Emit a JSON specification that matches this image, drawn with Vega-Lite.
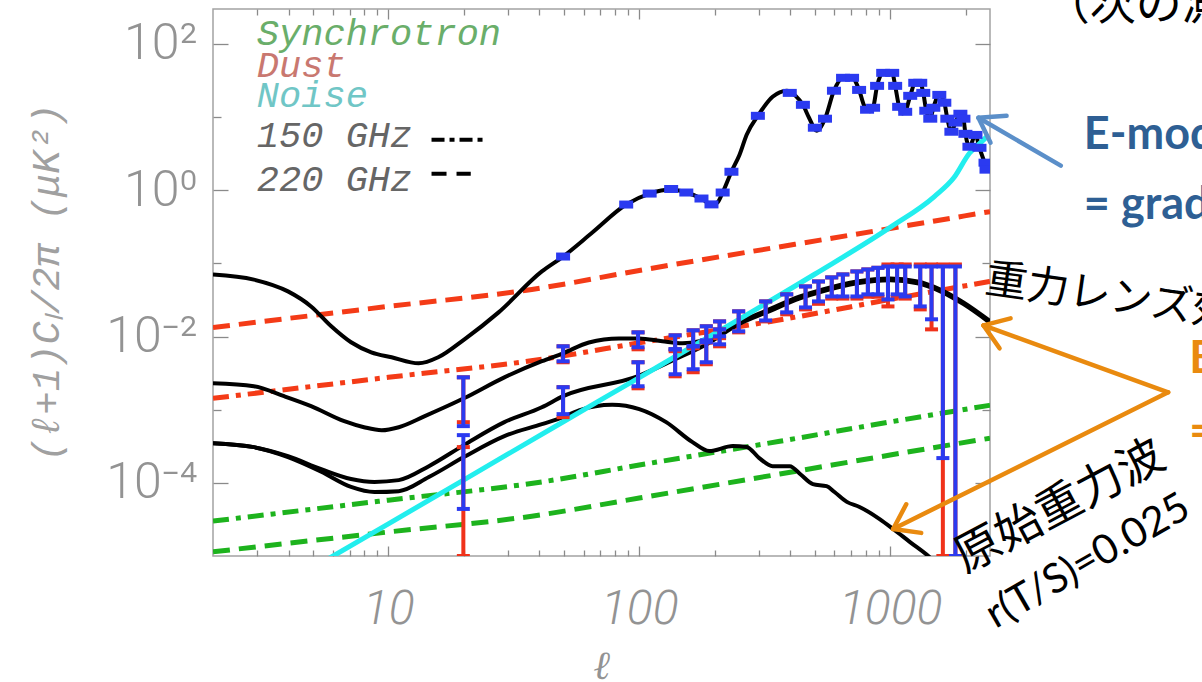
{
"$schema": "https://vega.github.io/schema/vega-lite/v6.json",
"width": 777, "height": 547,
"autosize": {"type": "none"},
"padding": {"left": 213, "top": 9, "right": 212, "bottom": 126},
"background": "#ffffff",
"config": {"view": {"stroke": "#a3a3a3", "strokeWidth": 1.5}, "axis": {"domain": false, "grid": false}},
"resolve": {"axis": {"x": "independent", "y": "independent"}},
"datasets": {
"curves": [
{"s":"EE","ell":2,"cl":0.0706},{"s":"EE","ell":2.91,"cl":0.060},{"s":"EE","ell":3.98,"cl":0.0414},{"s":"EE","ell":4.92,"cl":0.0258},{"s":"EE","ell":5.92,"cl":0.0138},{"s":"EE","ell":7.1,"cl":0.00834},{"s":"EE","ell":8.55,"cl":0.00608},{"s":"EE","ell":10.3,"cl":0.0052},{"s":"EE","ell":13.2,"cl":0.0043},{"s":"EE","ell":15.8,"cl":0.0052},{"s":"EE","ell":20.1,"cl":0.00916},{"s":"EE","ell":27.5,"cl":0.0214},{"s":"EE","ell":40.9,"cl":0.0776},{"s":"EE","ell":49.7,"cl":0.124},{"s":"EE","ell":65,"cl":0.264},{"s":"EE","ell":88.7,"cl":0.637},{"s":"EE","ell":110,"cl":0.9},{"s":"EE","ell":134,"cl":1.02},{"s":"EE","ell":154,"cl":0.93},{"s":"EE","ell":177,"cl":0.77},{"s":"EE","ell":194,"cl":0.64},{"s":"EE","ell":205,"cl":0.68},{"s":"EE","ell":215,"cl":0.93},{"s":"EE","ell":233,"cl":1.79},{"s":"EE","ell":251,"cl":3.06},{"s":"EE","ell":268,"cl":5.74},{"s":"EE","ell":297,"cl":10.4},{"s":"EE","ell":340,"cl":18.9},{"s":"EE","ell":387,"cl":22.9},{"s":"EE","ell":420,"cl":19.5},{"s":"EE","ell":449,"cl":14.7},{"s":"EE","ell":475,"cl":9.8},{"s":"EE","ell":510,"cl":6.5},{"s":"EE","ell":550,"cl":9.5},{"s":"EE","ell":597,"cl":22.9},{"s":"EE","ell":649,"cl":34.4},{"s":"EE","ell":705,"cl":34.4},{"s":"EE","ell":752,"cl":23.5},{"s":"EE","ell":790,"cl":14},{"s":"EE","ell":830,"cl":12.0},{"s":"EE","ell":855,"cl":13.4},{"s":"EE","ell":887,"cl":26.7},{"s":"EE","ell":938,"cl":40.2},{"s":"EE","ell":1019,"cl":40.2},{"s":"EE","ell":1047,"cl":26.7},{"s":"EE","ell":1086,"cl":13.8},{"s":"EE","ell":1120,"cl":11.2},{"s":"EE","ell":1148,"cl":11.8},{"s":"EE","ell":1202,"cl":19.5},{"s":"EE","ell":1259,"cl":29.4},{"s":"EE","ell":1318,"cl":29.4},{"s":"EE","ell":1355,"cl":21.4},{"s":"EE","ell":1393,"cl":12.2},{"s":"EE","ell":1445,"cl":9.5},{"s":"EE","ell":1486,"cl":13.4},{"s":"EE","ell":1570,"cl":20.1},{"s":"EE","ell":1644,"cl":15.7},{"s":"EE","ell":1690,"cl":9.5},{"s":"EE","ell":1754,"cl":6.3},{"s":"EE","ell":1820,"cl":8.4},{"s":"EE","ell":1905,"cl":11.1},{"s":"EE","ell":1959,"cl":9.5},{"s":"EE","ell":1995,"cl":5.9},{"s":"EE","ell":2070,"cl":3.93},{"s":"EE","ell":2188,"cl":5.7},{"s":"EE","ell":2270,"cl":3.8},{"s":"EE","ell":2400,"cl":2.2},
{"s":"lensB","ell":2,"cl":0.0023},{"s":"lensB","ell":2.91,"cl":0.00209},{"s":"lensB","ell":3.84,"cl":0.00153},{"s":"lensB","ell":4.92,"cl":0.00112},{"s":"lensB","ell":6.67,"cl":0.000697},{"s":"lensB","ell":8.0,"cl":0.000576},{"s":"lensB","ell":9.4,"cl":0.000524},{"s":"lensB","ell":11,"cl":0.000576},{"s":"lensB","ell":13.9,"cl":0.00081},{"s":"lensB","ell":20,"cl":0.00143},{"s":"lensB","ell":29,"cl":0.00277},{"s":"lensB","ell":40.9,"cl":0.0046},{"s":"lensB","ell":49.7,"cl":0.0059},{"s":"lensB","ell":63,"cl":0.0083},{"s":"lensB","ell":83,"cl":0.0094},{"s":"lensB","ell":100,"cl":0.0094},{"s":"lensB","ell":123.6,"cl":0.0086},{"s":"lensB","ell":148.6,"cl":0.0081},{"s":"lensB","ell":174,"cl":0.0086},{"s":"lensB","ell":209,"cl":0.0114},{"s":"lensB","ell":249,"cl":0.0156},{"s":"lensB","ell":323,"cl":0.0228},{"s":"lensB","ell":437,"cl":0.0353},{"s":"lensB","ell":539,"cl":0.044},{"s":"lensB","ell":737,"cl":0.0566},{"s":"lensB","ell":1000,"cl":0.0622},{"s":"lensB","ell":1285,"cl":0.0566},{"s":"lensB","ell":1585,"cl":0.044},{"s":"lensB","ell":1960,"cl":0.0293},{"s":"lensB","ell":2500,"cl":0.0163},
{"s":"lensC","ell":2,"cl":0.000349},{"s":"lensC","ell":2.91,"cl":0.000308},{"s":"lensC","ell":3.98,"cl":0.000232},{"s":"lensC","ell":5.4,"cl":0.000154},{"s":"lensC","ell":7.1,"cl":0.000113},{"s":"lensC","ell":8.8,"cl":0.000103},{"s":"lensC","ell":11,"cl":0.000109},{"s":"lensC","ell":14.5,"cl":0.000169},{"s":"lensC","ell":20,"cl":0.000328},{"s":"lensC","ell":29,"cl":0.000675},{"s":"lensC","ell":40.9,"cl":0.00108},{"s":"lensC","ell":49.7,"cl":0.00153},{"s":"lensC","ell":98.9,"cl":0.00287},{"s":"lensC","ell":139,"cl":0.00489},{"s":"lensC","ell":185,"cl":0.0078},{"s":"lensC","ell":249,"cl":0.0147},{"s":"lensC","ell":323,"cl":0.0215},{"s":"lensC","ell":437,"cl":0.0333},{"s":"lensC","ell":539,"cl":0.0415},{"s":"lensC","ell":737,"cl":0.0535},{"s":"lensC","ell":1000,"cl":0.0588},{"s":"lensC","ell":1285,"cl":0.0535},{"s":"lensC","ell":1585,"cl":0.0415},{"s":"lensC","ell":1960,"cl":0.0277},{"s":"lensC","ell":2500,"cl":0.0154},
{"s":"tensor","ell":2,"cl":0.000349},{"s":"tensor","ell":2.91,"cl":0.000308},{"s":"tensor","ell":3.98,"cl":0.000225},{"s":"tensor","ell":5.4,"cl":0.000142},{"s":"tensor","ell":7.1,"cl":0.000088},{"s":"tensor","ell":8.8,"cl":0.000075},{"s":"tensor","ell":11,"cl":0.000077},{"s":"tensor","ell":14.5,"cl":0.00012},{"s":"tensor","ell":20,"cl":0.000225},{"s":"tensor","ell":29,"cl":0.000435},{"s":"tensor","ell":40.9,"cl":0.000634},{"s":"tensor","ell":49.7,"cl":0.00079},{"s":"tensor","ell":57.5,"cl":0.00098},{"s":"tensor","ell":78,"cl":0.00117},{"s":"tensor","ell":100,"cl":0.00102},{"s":"tensor","ell":128,"cl":0.000675},{"s":"tensor","ell":163,"cl":0.00036},{"s":"tensor","ell":190,"cl":0.000272},{"s":"tensor","ell":236,"cl":0.000318},{"s":"tensor","ell":268,"cl":0.00031},{"s":"tensor","ell":300,"cl":0.00022},{"s":"tensor","ell":340,"cl":0.000169},{"s":"tensor","ell":398,"cl":0.000169},{"s":"tensor","ell":440,"cl":0.00013},{"s":"tensor","ell":492,"cl":0.000096},{"s":"tensor","ell":558,"cl":0.00009},{"s":"tensor","ell":600,"cl":0.000075},{"s":"tensor","ell":672,"cl":0.000055},{"s":"tensor","ell":755,"cl":0.0000468},{"s":"tensor","ell":908,"cl":0.000032},{"s":"tensor","ell":1028,"cl":0.0000234},{"s":"tensor","ell":1200,"cl":0.0000155},{"s":"tensor","ell":1419,"cl":0.00001},{"s":"tensor","ell":1600,"cl":0.0000068},
{"s":"noise","ell":5,"cl":0.0000069},{"s":"noise","ell":10,"cl":0.0000275},{"s":"noise","ell":20,"cl":0.00011},{"s":"noise","ell":50,"cl":0.00069},{"s":"noise","ell":100,"cl":0.00275},{"s":"noise","ell":200,"cl":0.011},{"s":"noise","ell":500,"cl":0.071},{"s":"noise","ell":1000,"cl":0.31},{"s":"noise","ell":1500,"cl":0.82},{"s":"noise","ell":1800,"cl":1.5},{"s":"noise","ell":2070,"cl":3.2},{"s":"noise","ell":2300,"cl":4.5},{"s":"noise","ell":2470,"cl":5.7},
{"s":"dust220","ell":2,"cl":0.0133},{"s":"dust220","ell":10,"cl":0.0258},{"s":"dust220","ell":37.3,"cl":0.044},{"s":"dust220","ell":100,"cl":0.08},{"s":"dust220","ell":1000,"cl":0.30},{"s":"dust220","ell":2500,"cl":0.51},
{"s":"dust150","ell":2,"cl":0.00143},{"s":"dust150","ell":10,"cl":0.00277},{"s":"dust150","ell":40.9,"cl":0.00489},{"s":"dust150","ell":100,"cl":0.0082},{"s":"dust150","ell":437,"cl":0.0189},{"s":"dust150","ell":1000,"cl":0.0322},{"s":"dust150","ell":2500,"cl":0.0567},
{"s":"sync150","ell":2,"cl":0.00003},{"s":"sync150","ell":10,"cl":0.000058},{"s":"sync150","ell":40.9,"cl":0.000103},{"s":"sync150","ell":100,"cl":0.000175},{"s":"sync150","ell":363,"cl":0.00037},{"s":"sync150","ell":1000,"cl":0.00068},{"s":"sync150","ell":2500,"cl":0.00115},
{"s":"sync220","ell":2,"cl":0.0000114},{"s":"sync220","ell":10,"cl":0.0000213},{"s":"sync220","ell":37.3,"cl":0.000035},{"s":"sync220","ell":100,"cl":0.000062},{"s":"sync220","ell":363,"cl":0.000132},{"s":"sync220","ell":1000,"cl":0.00024},{"s":"sync220","ell":2500,"cl":0.000408}
],
"bb": [
{"ell":19.9,"blo":0.000596,"bhi":0.00277,"rlo":0.000675,"rhi":0.00277},
{"ell":19.9,"blo":0.000044,"bhi":0.000449,"rlo":0.00001,"rhi":0.000308},
{"ell":49.7,"blo":0.00459,"bhi":0.00735,"rlo":0.00445,"rhi":0.00735},
{"ell":49.7,"blo":0.000869,"bhi":0.00203,"rlo":0.000791,"rhi":0.00203},
{"ell":98.9,"blo":0.00713,"bhi":0.0114,"rlo":0.00669,"rhi":0.0114},
{"ell":98.9,"blo":0.00209,"bhi":0.00445,"rlo":0.00196,"rhi":0.00445},
{"ell":139,"blo":0.00669,"bhi":0.01038,"rlo":0.0063,"rhi":0.01038},
{"ell":139,"blo":0.00305,"bhi":0.00669,"rlo":0.00286,"rhi":0.00669},
{"ell":164,"blo":0.00735,"bhi":0.01216,"rlo":0.0069,"rhi":0.01216},
{"ell":164,"blo":0.00357,"bhi":0.00735,"rlo":0.00325,"rhi":0.00735},
{"ell":185,"blo":0.00888,"bhi":0.0138,"rlo":0.0083,"rhi":0.0138},
{"ell":185,"blo":0.00445,"bhi":0.00834,"rlo":0.00418,"rhi":0.00834},
{"ell":209,"blo":0.01006,"bhi":0.0161,"rlo":0.0095,"rhi":0.0161},
{"ell":209,"blo":0.00783,"bhi":0.01253,"rlo":0.00735,"rhi":0.01253},
{"ell":249,"blo":0.01178,"bhi":0.0221,"rlo":0.0114,"rhi":0.0221},
{"ell":319,"blo":0.0166,"bhi":0.0302,"rlo":0.0161,"rhi":0.0302},
{"ell":387,"blo":0.0214,"bhi":0.0377,"rlo":0.0201,"rhi":0.0377},
{"ell":460,"blo":0.025,"bhi":0.0484,"rlo":0.0235,"rhi":0.0484},
{"ell":518,"blo":0.0302,"bhi":0.0566,"rlo":0.028,"rhi":0.0566},
{"ell":585,"blo":0.0353,"bhi":0.0643,"rlo":0.033,"rhi":0.0643},
{"ell":648,"blo":0.0353,"bhi":0.0706,"rlo":0.033,"rhi":0.0706},
{"ell":737,"blo":0.0353,"bhi":0.0776,"rlo":0.033,"rhi":0.0776},
{"ell":815,"blo":0.0377,"bhi":0.0826,"rlo":0.035,"rhi":0.0826},
{"ell":894,"blo":0.0377,"bhi":0.087,"rlo":0.035,"rhi":0.087},
{"ell":980,"blo":0.0321,"bhi":0.0907,"rlo":0.0258,"rhi":0.0966},
{"ell":1066,"blo":0.0377,"bhi":0.0907,"rlo":0.035,"rhi":0.0966},
{"ell":1148,"blo":0.0353,"bhi":0.0907,"rlo":0.033,"rhi":0.0966},
{"ell":1318,"blo":0.0258,"bhi":0.0907,"rlo":0.0235,"rhi":0.0966},
{"ell":1462,"blo":0.0172,"bhi":0.0907,"rlo":0.01253,"rhi":0.0966},
{"ell":1622,"blo":0.000218,"bhi":0.0907,"rlo":0.00001,"rhi":0.0966},
{"ell":1820,"blo":0.00001,"bhi":0.0907,"rlo":0.00001,"rhi":0.0966}
],
"ee": [
{"ell":49.7,"cl":0.124},{"ell":88.7,"cl":0.637},{"ell":110,"cl":0.9},{"ell":134,"cl":1.04},{"ell":154,"cl":0.93},{"ell":177,"cl":0.77},{"ell":194,"cl":0.64},{"ell":215,"cl":0.93},{"ell":233,"cl":1.79},{"ell":297,"cl":10.4},{"ell":398,"cl":21.4},{"ell":449,"cl":14.7},{"ell":501,"cl":7.15},{"ell":550,"cl":9.5},{"ell":597,"cl":22.9},{"ell":649,"cl":34.4},{"ell":705,"cl":34.4},{"ell":752,"cl":23.5},{"ell":809,"cl":12.6},{"ell":855,"cl":13.4},{"ell":887,"cl":26.7},{"ell":938,"cl":40.2},{"ell":1019,"cl":40.2},{"ell":1047,"cl":26.7},{"ell":1086,"cl":13.8},{"ell":1148,"cl":11.8},{"ell":1202,"cl":19.5},{"ell":1259,"cl":29.4},{"ell":1318,"cl":29.4},{"ell":1355,"cl":21.4},{"ell":1393,"cl":12.2},{"ell":1445,"cl":9.5},{"ell":1486,"cl":13.4},{"ell":1570,"cl":20.1},{"ell":1644,"cl":15.7},{"ell":1690,"cl":9.5},{"ell":1754,"cl":6.3},{"ell":1820,"cl":8.4},{"ell":1905,"cl":11.1},{"ell":1959,"cl":9.5},{"ell":1995,"cl":5.9},{"ell":2070,"cl":3.93},{"ell":2188,"cl":5.7},{"ell":2270,"cl":3.8},{"ell":2399,"cl":2.38},{"ell":2421,"cl":1.91}
],
"legend": [
{"ell":2.99,"cl":96.9,"t":"Synchrotron"},{"ell":2.99,"cl":35.5,"t":"Dust"},{"ell":2.99,"cl":13.8,"t":"Noise"},{"ell":2.99,"cl":3.94,"t":"150 GHz"},{"ell":2.99,"cl":0.987,"t":"220 GHz"}
],
"legendLines": [
{"s":"150","ell":14.86,"cl":4.9},{"s":"150","ell":23.99,"cl":4.9},{"s":"220","ell":14.86,"cl":1.68},{"s":"220","ell":21.3,"cl":1.68}
],
"arrows": [
{"a":"blue","ell":4786,"cl":2.17,"ell2":2249,"cl2":9.77},
{"a":"blue","ell":2249,"cl":9.77,"ell2":2911,"cl2":10.4},
{"a":"blue","ell":2249,"cl":9.77,"ell2":2512,"cl2":4.46},
{"a":"orange","ell":12823,"cl":0.00173,"ell2":2355,"cl2":0.0142},
{"a":"orange","ell":2355,"cl":0.0142,"ell2":3020,"cl2":0.0177},
{"a":"orange","ell":2355,"cl":0.0142,"ell2":2729,"cl2":0.0069},
{"a":"orange","ell":12823,"cl":0.00173,"ell2":1028,"cl2":0.0000234},
{"a":"orange","ell":1028,"cl":0.0000234,"ell2":1330,"cl2":0.0000207},
{"a":"orange","ell":1028,"cl":0.0000234,"ell2":1159,"cl2":0.000051}
]
},
"layer": [
{"data":{"name":"curves"},"transform":[{"filter":"datum.s === 'sync220'"}],
 "mark":{"type":"line","color":"#1db31d","strokeWidth":5,"strokeDash":[17,9],"interpolate":"monotone","clip":true},
 "encoding":{
  "x":{"field":"ell","type":"quantitative","scale":{"type":"log","domain":[2,2500],"nice":false},
   "axis":{"orient":"bottom","values":[3,4,5,6,7,8,9,20,30,40,50,60,70,80,90,200,300,400,500,600,700,800,900,2000],"tickSize":-6,"tickColor":"#8a8a8a","tickWidth":1.3,"labels":false,"title":null,"domain":false,"grid":false}},
  "y":{"field":"cl","type":"quantitative","scale":{"type":"log","domain":[0.00001,300],"nice":false},
   "axis":{"orient":"left","values":[0.001,0.1,10],"tickSize":-8,"tickColor":"#8a8a8a","tickWidth":1.3,"labels":false,"title":null,"domain":false,"grid":false}}}},
{"data":{"name":"curves"},"transform":[{"filter":"datum.s === 'sync150'"}],
 "mark":{"type":"line","color":"#1db31d","strokeWidth":5,"strokeDash":[16,7,5,7],"interpolate":"monotone","clip":true},
 "encoding":{
  "x":{"field":"ell","type":"quantitative","scale":{"type":"log","domain":[2,2500],"nice":false},
   "axis":{"orient":"top","values":[10,100,1000],"tickSize":-10,"tickColor":"#8a8a8a","tickWidth":1.3,"labels":false,"title":null,"domain":false,"grid":false}},
  "y":{"field":"cl","type":"quantitative","scale":{"type":"log","domain":[0.00001,300],"nice":false},
   "axis":{"orient":"right","values":[0.0001,0.01,1,100],"tickSize":-15,"tickColor":"#8a8a8a","tickWidth":1.3,"labels":false,"title":null,"domain":false,"grid":false}}}},
{"data":{"name":"curves"},"transform":[{"filter":"datum.s === 'dust220'"}],
 "mark":{"type":"line","color":"#f43b17","strokeWidth":5,"strokeDash":[17,9],"interpolate":"monotone","clip":true},
 "encoding":{
  "x":{"field":"ell","type":"quantitative","scale":{"type":"log","domain":[2,2500],"nice":false},
   "axis":{"orient":"top","values":[3,4,5,6,7,8,9,20,30,40,50,60,70,80,90,200,300,400,500,600,700,800,900,2000],"tickSize":-6,"tickColor":"#8a8a8a","tickWidth":1.3,"labels":false,"title":null,"domain":false,"grid":false}},
  "y":{"field":"cl","type":"quantitative","scale":{"type":"log","domain":[0.00001,300],"nice":false},
   "axis":{"orient":"right","values":[0.001,0.1,10],"tickSize":-8,"tickColor":"#8a8a8a","tickWidth":1.3,"labels":false,"title":null,"domain":false,"grid":false}}}},
{"data":{"name":"curves"},"transform":[{"filter":"datum.s === 'dust150'"}],
 "mark":{"type":"line","color":"#f43b17","strokeWidth":5,"strokeDash":[16,7,5,7],"interpolate":"monotone","clip":true},
 "encoding":{
  "x":{"field":"ell","type":"quantitative","scale":{"type":"log","domain":[2,2500],"nice":false},"axis":null},
  "y":{"field":"cl","type":"quantitative","scale":{"type":"log","domain":[0.00001,300],"nice":false},"axis":null}}},
{"data":{"name":"curves"},"transform":[{"filter":"datum.s === 'EE' || datum.s === 'lensB' || datum.s === 'lensC' || datum.s === 'tensor'"}],
 "mark":{"type":"line","color":"#000000","strokeWidth":4,"interpolate":"monotone","clip":true},
 "encoding":{
  "detail":{"field":"s"},
  "x":{"field":"ell","type":"quantitative","scale":{"type":"log","domain":[2,2500],"nice":false},
   "axis":{"orient":"bottom","values":[10,100,1000],"format":"d","tickSize":-10,"tickColor":"#8a8a8a","tickWidth":1.3,"domain":false,"grid":false,
    "labelFont":"Roboto","labelFontWeight":300,"labelFontSize":48,"labelFontStyle":"italic","labelColor":"#939393","labelPadding":63,"labelBaseline":"middle","labelAlign":"center","labelFlush":false,"labelOverlap":false,
    "title":"ℓ","titleFont":"DejaVu Serif","titleFontSize":40,"titleFontStyle":"italic","titleFontWeight":"normal","titleColor":"#939393","titleX":388,"titleY":110,"titleBaseline":"middle","titleAlign":"center"}},
  "y":{"field":"cl","type":"quantitative","scale":{"type":"log","domain":[0.00001,300],"nice":false},
   "axis":{"orient":"left","values":[0.0001,0.01,1,100],"tickSize":-15,"tickColor":"#8a8a8a","tickWidth":1.3,"domain":false,"grid":false,
    "labelExpr":"datum.value > 50 ? '10²' : datum.value > 0.5 ? '10⁰' : datum.value > 0.005 ? '10⁻²' : '10⁻⁴'",
    "labelFont":"Roboto","labelFontWeight":300,"labelFontSize":50,"labelColor":"#939393","labelPadding":31,"labelBaseline":"middle","labelAlign":"right","labelFlush":false,"labelOverlap":false,
    "title":"(ℓ+1)Cₗ/2π  (μK²)","titleFont":"Liberation Mono","titleFontSize":39,"titleFontStyle":"italic","titleFontWeight":"normal","titleColor":"#a0a0a0","titleAngle":-90,"titleX":-167,"titleY":273,"titleBaseline":"middle","titleAlign":"center"}}}},
{"data":{"name":"curves"},"transform":[{"filter":"datum.s === 'noise'"}],
 "mark":{"type":"line","color":"#22eeee","strokeWidth":5,"interpolate":"monotone","clip":true},
 "encoding":{
  "x":{"field":"ell","type":"quantitative","scale":{"type":"log","domain":[2,2500],"nice":false},"axis":null},
  "y":{"field":"cl","type":"quantitative","scale":{"type":"log","domain":[0.00001,300],"nice":false},"axis":null}}},
{"data":{"name":"bb"},
 "mark":{"type":"rule","color":"#f0321a","strokeWidth":4,"opacity":1,"clip":true},
 "encoding":{
  "x":{"field":"ell","type":"quantitative","scale":{"type":"log","domain":[2,2500],"nice":false},"axis":null},
  "y":{"field":"rlo","type":"quantitative","scale":{"type":"log","domain":[0.00001,300],"nice":false},"axis":null},
  "y2":{"field":"rhi"}}},
{"data":{"name":"bb"},
 "mark":{"type":"tick","orient":"horizontal","color":"#f0321a","size":13,"thickness":4,"opacity":1,"clip":true},
 "encoding":{
  "x":{"field":"ell","type":"quantitative","scale":{"type":"log","domain":[2,2500],"nice":false},"axis":null},
  "y":{"field":"rlo","type":"quantitative","scale":{"type":"log","domain":[0.00001,300],"nice":false},"axis":null}}},
{"data":{"name":"bb"},
 "mark":{"type":"tick","orient":"horizontal","color":"#f0321a","size":13,"thickness":4,"opacity":1,"clip":true},
 "encoding":{
  "x":{"field":"ell","type":"quantitative","scale":{"type":"log","domain":[2,2500],"nice":false},"axis":null},
  "y":{"field":"rhi","type":"quantitative","scale":{"type":"log","domain":[0.00001,300],"nice":false},"axis":null}}},
{"data":{"name":"bb"},
 "mark":{"type":"rule","color":"#2b3af0","strokeWidth":4,"opacity":1,"clip":true},
 "encoding":{
  "x":{"field":"ell","type":"quantitative","scale":{"type":"log","domain":[2,2500],"nice":false},"axis":null},
  "y":{"field":"blo","type":"quantitative","scale":{"type":"log","domain":[0.00001,300],"nice":false},"axis":null},
  "y2":{"field":"bhi"}}},
{"data":{"name":"bb"},
 "mark":{"type":"tick","orient":"horizontal","color":"#2b3af0","size":13,"thickness":4,"opacity":1,"clip":true},
 "encoding":{
  "x":{"field":"ell","type":"quantitative","scale":{"type":"log","domain":[2,2500],"nice":false},"axis":null},
  "y":{"field":"blo","type":"quantitative","scale":{"type":"log","domain":[0.00001,300],"nice":false},"axis":null}}},
{"data":{"name":"bb"},
 "mark":{"type":"tick","orient":"horizontal","color":"#2b3af0","size":13,"thickness":4,"opacity":1,"clip":true},
 "encoding":{
  "x":{"field":"ell","type":"quantitative","scale":{"type":"log","domain":[2,2500],"nice":false},"axis":null},
  "y":{"field":"bhi","type":"quantitative","scale":{"type":"log","domain":[0.00001,300],"nice":false},"axis":null}}},
{"data":{"name":"ee"},
 "mark":{"type":"tick","orient":"horizontal","color":"#2b3af0","size":14,"thickness":8,"opacity":1,"clip":true},
 "encoding":{
  "x":{"field":"ell","type":"quantitative","scale":{"type":"log","domain":[2,2500],"nice":false},"axis":null},
  "y":{"field":"cl","type":"quantitative","scale":{"type":"log","domain":[0.00001,300],"nice":false},"axis":null}}},
{"data":{"name":"legend"},
 "mark":{"type":"text","font":"Liberation Mono","fontSize":37,"fontStyle":"italic","align":"left","baseline":"alphabetic"},
 "encoding":{
  "x":{"field":"ell","type":"quantitative","scale":{"type":"log","domain":[2,2500],"nice":false},"axis":null},
  "y":{"field":"cl","type":"quantitative","scale":{"type":"log","domain":[0.00001,300],"nice":false},"axis":null},
  "text":{"field":"t"},
  "color":{"condition":[{"test":"datum.t === 'Synchrotron'","value":"#6aae6a"},{"test":"datum.t === 'Dust'","value":"#c97870"},{"test":"datum.t === 'Noise'","value":"#70c6c6"}],"value":"#666666"}}},
{"data":{"name":"legendLines"},"transform":[{"filter":"datum.s === '150'"}],
 "mark":{"type":"line","color":"#000000","strokeWidth":4,"strokeDash":[13,5,5,5]},
 "encoding":{
  "x":{"field":"ell","type":"quantitative","scale":{"type":"log","domain":[2,2500],"nice":false},"axis":null},
  "y":{"field":"cl","type":"quantitative","scale":{"type":"log","domain":[0.00001,300],"nice":false},"axis":null}}},
{"data":{"name":"legendLines"},"transform":[{"filter":"datum.s === '220'"}],
 "mark":{"type":"line","color":"#000000","strokeWidth":4,"strokeDash":[15,10]},
 "encoding":{
  "x":{"field":"ell","type":"quantitative","scale":{"type":"log","domain":[2,2500],"nice":false},"axis":null},
  "y":{"field":"cl","type":"quantitative","scale":{"type":"log","domain":[0.00001,300],"nice":false},"axis":null}}},
{"data":{"name":"arrows"},
 "mark":{"type":"rule","strokeWidth":4.5,"strokeCap":"round"},
 "encoding":{
  "x":{"field":"ell","type":"quantitative","scale":{"type":"log","domain":[2,2500],"nice":false},"axis":null},
  "y":{"field":"cl","type":"quantitative","scale":{"type":"log","domain":[0.00001,300],"nice":false},"axis":null},
  "x2":{"field":"ell2"},"y2":{"field":"cl2"},
  "color":{"condition":{"test":"datum.a === 'blue'","value":"#5b8fc9"},"value":"#e98a0f"}}},
{"data":{"values":[{"ell":5916,"cl":5.74,"t":"E-mode"},{"ell":5916,"cl":0.637,"t":"= gradient"}]},
 "mark":{"type":"text","font":"Lato","fontWeight":"bold","fontSize":45,"color":"#2e5f94","align":"left","baseline":"middle"},
 "encoding":{
  "x":{"field":"ell","type":"quantitative","scale":{"type":"log","domain":[2,2500],"nice":false},"axis":null},
  "y":{"field":"cl","type":"quantitative","scale":{"type":"log","domain":[0.00001,300],"nice":false},"axis":null},
  "text":{"field":"t"}}},
{"data":{"values":[{"ell":15560,"cl":0.00489,"t":"B-mode"},{"ell":15560,"cl":0.000493,"t":"= curl"}]},
 "mark":{"type":"text","font":"Lato","fontWeight":"bold","fontSize":45,"color":"#e98a0f","align":"left","baseline":"middle"},
 "encoding":{
  "x":{"field":"ell","type":"quantitative","scale":{"type":"log","domain":[2,2500],"nice":false},"axis":null},
  "y":{"field":"cl","type":"quantitative","scale":{"type":"log","domain":[0.00001,300],"nice":false},"axis":null},
  "text":{"field":"t"}}},
{"data":{"values":[{"ell":2399,"cl":0.0603,"t":"重力レンズ効果"}]},
 "mark":{"type":"text","font":"Noto Sans CJK JP","fontSize":42,"color":"#000000","align":"left","baseline":"middle","angle":8},
 "encoding":{
  "x":{"field":"ell","type":"quantitative","scale":{"type":"log","domain":[2,2500],"nice":false},"axis":null},
  "y":{"field":"cl","type":"quantitative","scale":{"type":"log","domain":[0.00001,300],"nice":false},"axis":null},
  "text":{"field":"t"}}},
{"data":{"values":[{"ell":1871,"cl":0.0000086,"t":"原始重力波"}]},
 "mark":{"type":"text","font":"Noto Sans CJK JP","fontSize":46,"color":"#000000","align":"left","baseline":"middle","angle":-28},
 "encoding":{
  "x":{"field":"ell","type":"quantitative","scale":{"type":"log","domain":[2,2500],"nice":false},"axis":null},
  "y":{"field":"cl","type":"quantitative","scale":{"type":"log","domain":[0.00001,300],"nice":false},"axis":null},
  "text":{"field":"t"}}},
{"data":{"values":[{"ell":2489,"cl":0.00000139,"t":"r(T/S)=0.025"}]},
 "mark":{"type":"text","font":"Lato","fontSize":41,"color":"#000000","align":"left","baseline":"middle","angle":-30},
 "encoding":{
  "x":{"field":"ell","type":"quantitative","scale":{"type":"log","domain":[2,2500],"nice":false},"axis":null},
  "y":{"field":"cl","type":"quantitative","scale":{"type":"log","domain":[0.00001,300],"nice":false},"axis":null},
  "text":{"field":"t"}}},
{"data":{"values":[{"ell":4093,"cl":340,"t":"（次の測定"}]},
 "mark":{"type":"text","font":"Noto Sans CJK JP","fontSize":46,"color":"#000000","align":"left","baseline":"middle"},
 "encoding":{
  "x":{"field":"ell","type":"quantitative","scale":{"type":"log","domain":[2,2500],"nice":false},"axis":null},
  "y":{"field":"cl","type":"quantitative","scale":{"type":"log","domain":[0.00001,300],"nice":false},"axis":null},
  "text":{"field":"t"}}}
]
}
